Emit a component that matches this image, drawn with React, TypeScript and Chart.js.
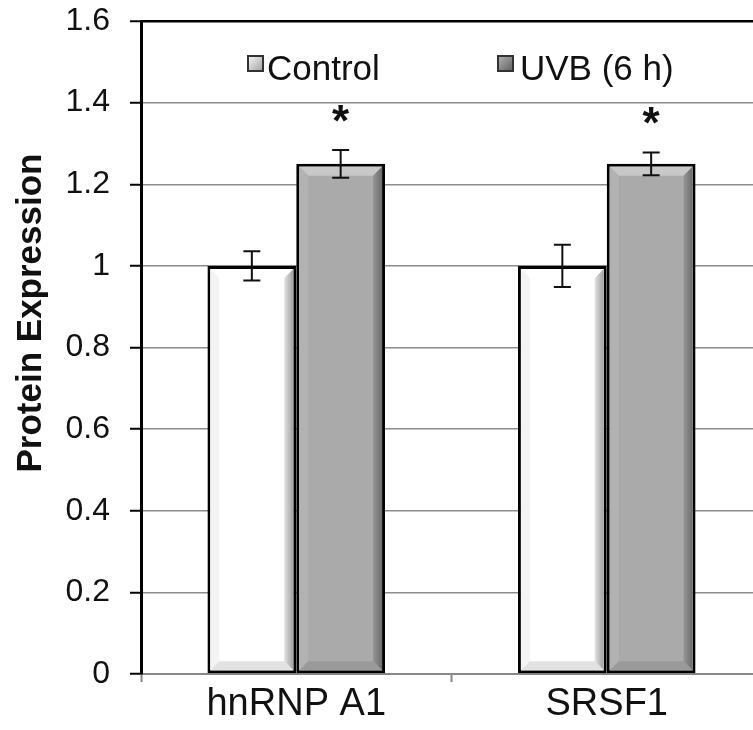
import React, { useEffect, useRef } from 'react';
import { Chart, registerables } from 'chart.js';

Chart.register(...registerables);

// ---- data ----
const categories: string[] = ['hnRNP A1', 'SRSF1'];
const seriesNames: string[] = ['Control', 'UVB (6 h)'];
const controlValues: number[] = [1.0, 1.0];
const uvbValues: number[] = [1.25, 1.25];
const controlErrors: number[] = [0.036, 0.052];
const uvbErrors: number[] = [0.034, 0.028];
const controlSignificant: boolean[] = [false, false];
const uvbSignificant: boolean[] = [true, true];
const yTickValues: number[] = [0, 0.2, 0.4, 0.6, 0.8, 1, 1.2, 1.4, 1.6];
const yTickLabels: string[] = ['0', '0.2', '0.4', '0.6', '0.8', '1', '1.2', '1.4', '1.6'];
const yTitle = 'Protein Expression';

const errorsBySeries = [controlErrors, uvbErrors];
const sigBySeries = [controlSignificant, uvbSignificant];

const FONT = '"Liberation Sans", Arial, sans-serif';

const BEVEL = [
  { base: '#ffffff', top: '#ffffff', left: '#f4f4f4', rightFrom: '#ffffff', rightTo: '#a0a0a0', bottom: '#e2e2e2' },
  { base: '#aaaaaa', top: '#c8c8c8', left: '#b2b2b2', rightFrom: '#a8a8a8', rightTo: '#6c6c6c', bottom: '#9a9a9a' },
];

function poly(ctx: CanvasRenderingContext2D, pts: number[][], fill: any) {
  ctx.beginPath();
  ctx.moveTo(pts[0][0], pts[0][1]);
  for (let i = 1; i < pts.length; i++) ctx.lineTo(pts[i][0], pts[i][1]);
  ctx.closePath();
  ctx.fillStyle = fill;
  ctx.fill();
}

const bevelPlugin = {
  id: 'bevelBars',
  afterDatasetsDraw(chart: any) {
    const ctx: CanvasRenderingContext2D = chart.ctx;
    ctx.save();
    chart.data.datasets.forEach((_ds: any, di: number) => {
      const meta = chart.getDatasetMeta(di);
      const sty = BEVEL[di];
      meta.data.forEach((bar: any) => {
        const p = bar.getProps(['x', 'y', 'base', 'width'], true);
        const inset = 3;
        const L = p.x - p.width / 2 + inset;
        const R = p.x + p.width / 2 - inset;
        const T = Math.min(p.y, p.base) + inset;
        const B = Math.max(p.y, p.base) - inset;
        const b = 9;
        poly(ctx, [[L, T], [R, T], [R - b, T + b], [L + b, T + b]], sty.top);
        poly(ctx, [[L, T], [L + b, T + b], [L + b, B - b], [L, B]], sty.left);
        const g = ctx.createLinearGradient(R - b - 4, 0, R, 0);
        g.addColorStop(0, sty.rightFrom);
        g.addColorStop(1, sty.rightTo);
        poly(ctx, [[R, T], [R, B], [R - b, B - b], [R - b, T + b]], g);
        poly(ctx, [[L, B], [L + b, B - b], [R - b, B - b], [R, B]], sty.bottom);
      });
    });
    ctx.restore();
  },
};

const errorPlugin = {
  id: 'errorBars',
  afterDatasetsDraw(chart: any) {
    const ctx: CanvasRenderingContext2D = chart.ctx;
    const yScale = chart.scales.y;
    ctx.save();
    chart.data.datasets.forEach((ds: any, di: number) => {
      const meta = chart.getDatasetMeta(di);
      const errs = errorsBySeries[di];
      const sig = sigBySeries[di];
      meta.data.forEach((bar: any, i: number) => {
        const v = ds.data[i];
        const e = errs[i];
        const x = bar.x;
        const yt = yScale.getPixelForValue(v + e);
        const yb = yScale.getPixelForValue(v - e);
        ctx.strokeStyle = '#111';
        ctx.lineWidth = 2;
        ctx.beginPath();
        ctx.moveTo(x, yt);
        ctx.lineTo(x, yb);
        ctx.moveTo(x - 8.5, yt);
        ctx.lineTo(x + 8.5, yt);
        ctx.moveTo(x - 8.5, yb);
        ctx.lineTo(x + 8.5, yb);
        ctx.stroke();
        if (sig[i]) {
          ctx.fillStyle = '#111';
          ctx.font = `bold 44px ${FONT}`;
          ctx.textAlign = 'center';
          ctx.textBaseline = 'alphabetic';
          ctx.fillText('*', x, yt - 14);
        }
      });
    });
    ctx.restore();
  },
};

const legendPlugin = {
  id: 'insideLegend',
  afterDraw(chart: any) {
    const ctx: CanvasRenderingContext2D = chart.ctx;
    const area = chart.chartArea;
    const offsets = [106, 356];
    const boxFills = [
      ['#ffffff', '#9a9a9a'],
      ['#b8b8b8', '#5a5a5a'],
    ];
    ctx.save();
    seriesNames.forEach((name, i) => {
      const bx = area.left + offsets[i];
      const by = area.top + 34;
      const s = 17;
      const g = ctx.createLinearGradient(bx, by, bx + s, by + s);
      g.addColorStop(0, boxFills[i][0]);
      g.addColorStop(1, boxFills[i][1]);
      ctx.fillStyle = g;
      ctx.fillRect(bx, by, s, s);
      ctx.strokeStyle = '#333';
      ctx.lineWidth = 2;
      ctx.strokeRect(bx + 1, by + 1, s - 2, s - 2);
      ctx.fillStyle = '#111';
      ctx.font = `35px ${FONT}`;
      ctx.textAlign = 'left';
      ctx.textBaseline = 'alphabetic';
      ctx.fillText(name, bx + s + (i === 0 ? 3 : 6), area.top + 59);
    });
    ctx.restore();
  },
};

const yTitlePlugin = {
  id: 'yTitle',
  afterDraw(chart: any) {
    const ctx: CanvasRenderingContext2D = chart.ctx;
    ctx.save();
    ctx.translate(41, 313);
    ctx.rotate(-Math.PI / 2);
    ctx.fillStyle = '#111';
    ctx.font = `bold 35px ${FONT}`;
    ctx.textAlign = 'center';
    ctx.textBaseline = 'alphabetic';
    ctx.fillText(yTitle, 0, 0);
    ctx.restore();
  },
};

export default function App() {
  const canvasRef = useRef<HTMLCanvasElement | null>(null);

  useEffect(() => {
    const canvas = canvasRef.current;
    if (!canvas) return;
    const chart = new Chart(canvas, {
      type: 'bar',
      data: {
        labels: categories,
        datasets: [
          {
            label: seriesNames[0],
            data: controlValues,
            backgroundColor: BEVEL[0].base,
            borderColor: '#000',
            borderWidth: 3,
            borderSkipped: false,
            categoryPercentage: 0.572,
            barPercentage: 1.0,
          },
          {
            label: seriesNames[1],
            data: uvbValues,
            backgroundColor: BEVEL[1].base,
            borderColor: '#000',
            borderWidth: 3,
            borderSkipped: false,
            categoryPercentage: 0.572,
            barPercentage: 1.0,
          },
        ],
      },
      options: {
        responsive: false,
        animation: false,
        devicePixelRatio: 1,
        layout: { padding: { top: 21, right: 4, left: 0, bottom: 0 } },
        plugins: {
          legend: { display: false },
          tooltip: { enabled: false },
        },
        scales: {
          x: {
            type: 'category',
            offset: true,
            grid: {
              display: true,
              offset: true,
              drawOnChartArea: false,
              drawTicks: true,
              tickLength: 8,
              tickColor: '#888',
              tickWidth: 2,
            },
            border: { display: true, color: '#888', width: 2 },
            ticks: {
              color: '#111',
              font: { family: FONT, size: 38 },
              padding: 0,
            },
            afterFit: (scale: any) => {
              scale.height = 56;
              scale.paddingLeft = 0;
              scale.paddingRight = 0;
            },
          },
          y: {
            type: 'linear',
            min: 0,
            max: 1.6,
            afterBuildTicks: (scale: any) => {
              scale.ticks = yTickValues.map((v) => ({ value: v }));
            },
            grid: {
              color: (c: any) => (c.tick && c.tick.value === 1.6 ? '#000' : '#8c8c8c'),
              lineWidth: (c: any) => (c.tick && c.tick.value === 1.6 ? 2.5 : 1.5),
              tickColor: '#000',
              tickLength: 11,
              tickWidth: 2,
            },
            border: { display: true, color: '#000', width: 3 },
            ticks: {
              color: '#111',
              font: { family: FONT, size: 32 },
              padding: 20,
              callback: (_v: any, i: number) => yTickLabels[i],
            },
            afterFit: (scale: any) => {
              scale.width = 141;
              scale.paddingTop = 0;
              scale.paddingBottom = 0;
            },
          },
        },
      },
      plugins: [bevelPlugin, errorPlugin, legendPlugin, yTitlePlugin],
    });
    return () => chart.destroy();
  }, []);

  return (
    <div style={{ position: 'fixed', left: 0, top: 0, width: 753, height: 730, overflow: 'hidden', background: '#fff' }}>
      <canvas ref={canvasRef} width={766} height={730} style={{ display: 'block', width: 766, height: 730 }} />
    </div>
  );
}
